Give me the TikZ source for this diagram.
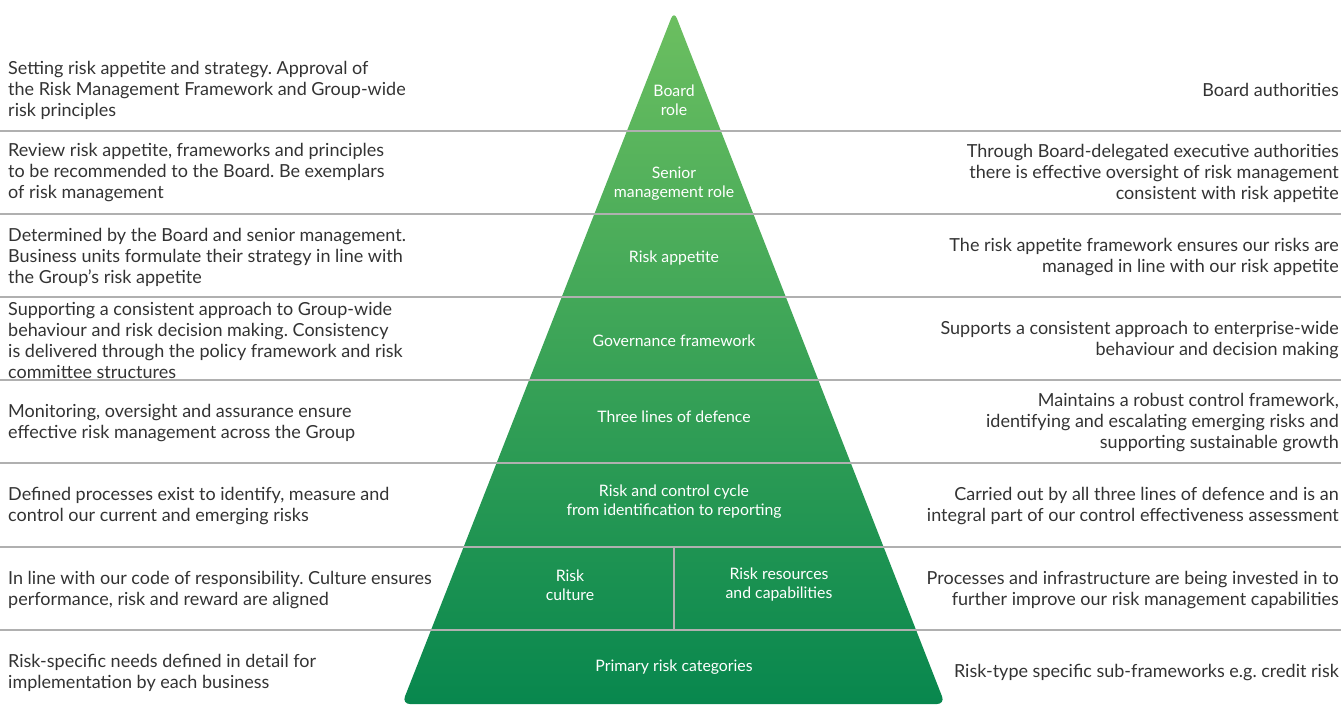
\documentclass[tikz,border=0pt]{standalone}
\usepackage{fontspec}
\setmainfont{Lato}
\frenchspacing
\definecolor{pyrtop}{HTML}{6CBF60}
\definecolor{pyrmid}{HTML}{2BA355}
\definecolor{pyrbot}{HTML}{08874E}
\definecolor{txtgray}{HTML}{333333}
\definecolor{rulegray}{HTML}{B0B0B0}

\begin{document}
\begin{tikzpicture}[
      x=1pt, y=-1pt,
      side/.style={inner sep=0pt, text=txtgray, font=\fontsize{18}{21}\selectfont},
      lefttext/.style={side, anchor=west, align=left},
      righttext/.style={side, anchor=east, align=right},
      level/.style={inner sep=0pt, text=white, align=center, font=\fontsize{15.8}{19}\selectfont},
      rule/.style={rulegray, line width=1.6pt}
    ]
    \useasboundingbox (0,0) rectangle (1341,704);
    % Pyramide
    \shade[top color=pyrtop, middle color=pyrmid, bottom color=pyrbot, rounded corners=8pt]
      (402,704) -- (674,11) -- (945,704) -- cycle;
    % Linhas divisorias
    \foreach \y in {131,214,297,380,463,547,630}
      \draw[rule] (0,\y) -- (1341,\y);
    \draw[rule] (674,547) -- (674,630);

    % Niveis da piramide
    \node[level] (p1) at (674,100) {Board\\role};
    \node[level] (p2) at (674,184) {Senior\\management role};
    \node[level] (p3) at (674,258) {Risk appetite};
    \node[level] (p4) at (674,341) {Governance framework};
    \node[level] (p5) at (674,417) {Three lines of defence};
    \node[level] (p6) at (674,502) {Risk and control cycle\\from identification to reporting};
    \node[level] (p7a) at (570,585) {Risk\\culture};
    \node[level] (p7b) at (779,585) {Risk resources\\and capabilities};
    \node[level] (p8) at (674,667) {Primary risk categories};

    % Texto da esquerda
    \node[lefttext] (l1) at (8,90) {Setting risk appetite and strategy. Approval of\\the Risk Management Framework and Group-wide\\risk principles};
    \node[lefttext] (l2) at (8,173) {Review risk appetite, frameworks and principles\\to be recommended to the Board. Be exemplars\\of risk management};
    \node[lefttext] (l3) at (8,257) {Determined by the Board and senior management.\\Business units formulate their strategy in line with\\the Group’s risk appetite};
    \node[lefttext] (l4) at (8,340) {Supporting a consistent approach to Group-wide\\behaviour and risk decision making. Consistency\\is delivered through the policy framework and risk\\committee structures};
    \node[lefttext] (l5) at (8,423) {Monitoring, oversight and assurance ensure\\effective risk management across the Group};
    \node[lefttext] (l6) at (8,506) {Defined processes exist to identify, measure and\\control our current and emerging risks};
    \node[lefttext] (l7) at (8,590) {In line with our code of responsibility. Culture ensures\\performance, risk and reward are aligned};
    \node[lefttext] (l8) at (8,673) {Risk-specific needs defined in detail for\\implementation by each business};

    % Texto da direita
    \node[righttext] (r1) at (1339,90) {Board authorities};
    \node[righttext] (r2) at (1339,173) {Through Board-delegated executive authorities\\there is effective oversight of risk management\\consistent with risk appetite};
    \node[righttext] (r3) at (1339,257) {The risk appetite framework ensures our risks are\\managed in line with our risk appetite};
    \node[righttext] (r4) at (1339,340) {Supports a consistent approach to enterprise-wide\\behaviour and decision making};
    \node[righttext] (r5) at (1339,423) {Maintains a robust control framework,\\identifying and escalating emerging risks and\\supporting sustainable growth};
    \node[righttext] (r6) at (1339,506) {Carried out by all three lines of defence and is an\\integral part of our control effectiveness assessment};
    \node[righttext] (r7) at (1339,590) {Processes and infrastructure are being invested in to\\further improve our risk management capabilities};
    \node[righttext] (r8) at (1339,673) {Risk-type specific sub-frameworks e.g. credit risk};
  \end{tikzpicture}
\end{document}
